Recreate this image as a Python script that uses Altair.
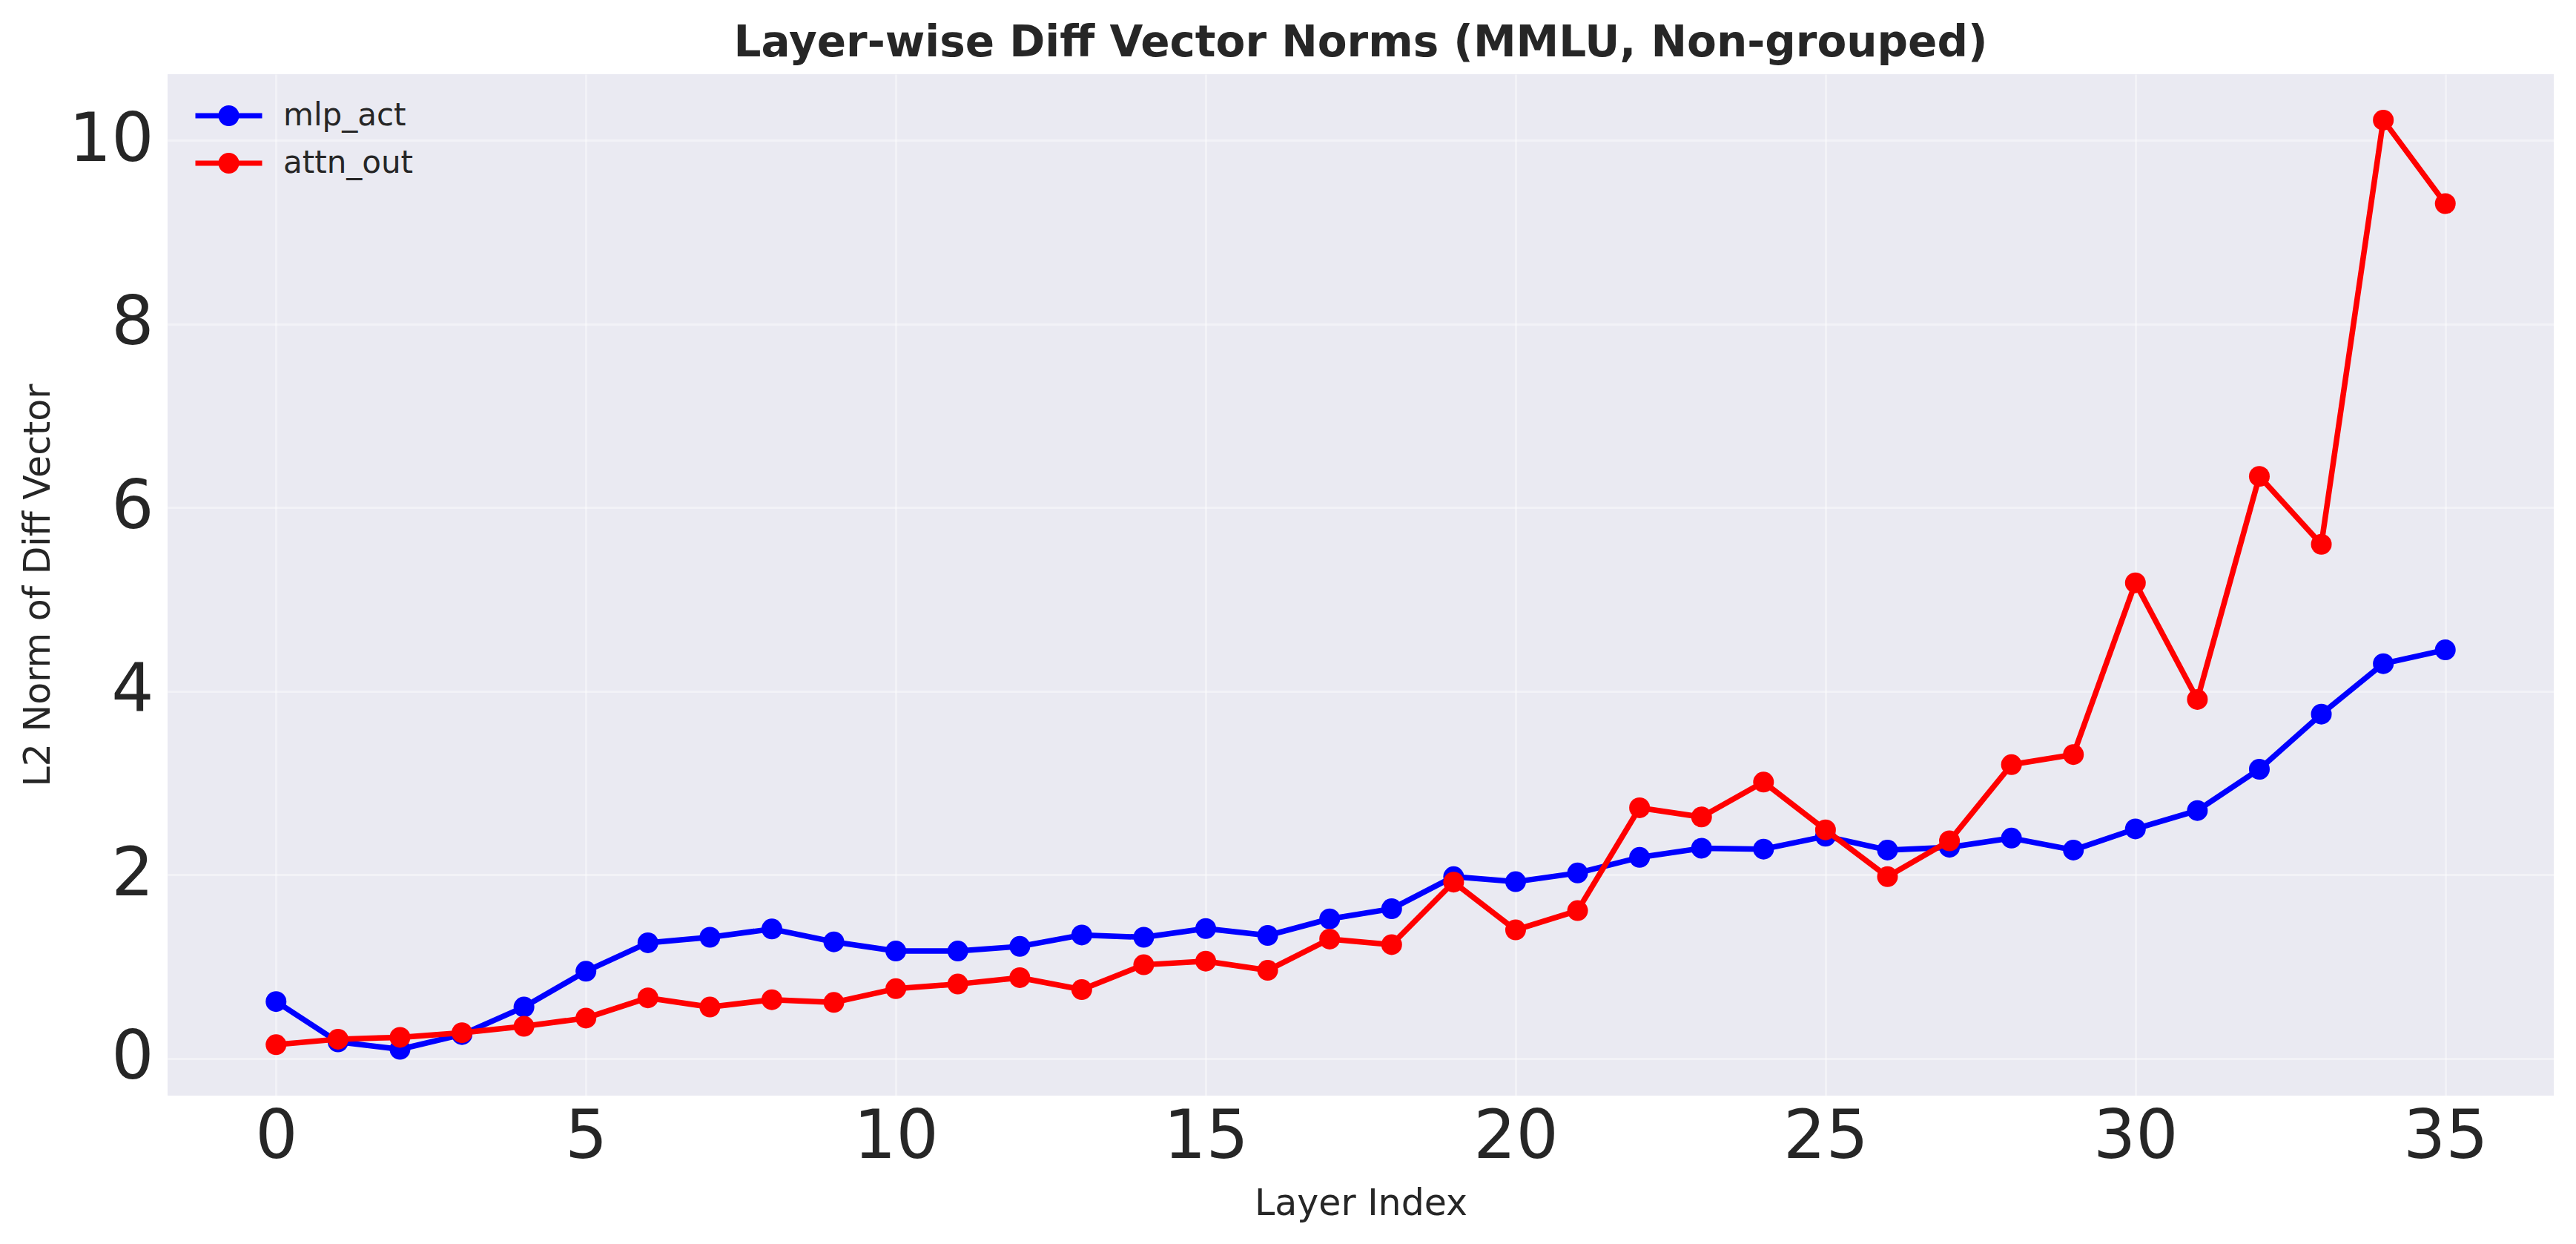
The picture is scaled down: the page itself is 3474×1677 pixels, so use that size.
import altair as alt
import pandas as pd

layers = list(range(36))
series_names = ["mlp_act", "attn_out"]
series_colors = ["#0000FF", "#FF0000"]
mlp_act = [0.62, 0.18, 0.10, 0.26, 0.56, 0.95, 1.26, 1.32, 1.41, 1.27, 1.17, 1.17,
           1.22, 1.345, 1.32, 1.415, 1.34, 1.52, 1.63, 1.98, 1.925, 2.02, 2.19, 2.29,
           2.28, 2.42, 2.27, 2.30, 2.40, 2.27, 2.50, 2.70, 3.15, 3.75, 4.30, 4.45]
attn_out = [0.15, 0.21, 0.23, 0.28, 0.35, 0.44, 0.66, 0.56, 0.64, 0.61, 0.76, 0.81,
            0.88, 0.75, 1.02, 1.06, 0.96, 1.30, 1.24, 1.92, 1.40, 1.61, 2.73, 2.63,
            3.01, 2.49, 1.98, 2.37, 3.20, 3.31, 5.18, 3.91, 6.34, 5.60, 10.22, 9.31]
x_ticks = [0, 5, 10, 15, 20, 25, 30, 35]
y_ticks = [0, 2, 4, 6, 8, 10]

rows = []
for name, vals in zip(series_names, [mlp_act, attn_out]):
    for l, v in zip(layers, vals):
        rows.append({"layer": l, "norm": v, "series": name})
df = pd.DataFrame(rows)

FONT = "DejaVu Sans"
TXT = "#262626"

x_enc = alt.X("layer:Q",
              scale=alt.Scale(domain=[-1.75, 36.75], nice=False, zero=False),
              axis=alt.Axis(values=x_ticks, title="Layer Index", format="d",
                            labelFontSize=90, labelPadding=12, labelFlush=False,
                            titleFontSize=49, titleY=160, titleBaseline="alphabetic"))
y_enc = alt.Y("norm:Q",
              scale=alt.Scale(domain=[-0.405, 10.72], nice=False, zero=False),
              axis=alt.Axis(values=y_ticks, title="L2 Norm of Diff Vector", format="d",
                            labelFontSize=90, labelPadding=19, labelFlush=False,
                            titleFontSize=49, titleX=-160, titleY=688.5,
                            titleBaseline="alphabetic", titleAlign="center"))

sym_path = ("M -1 0 L 1 0 "
            "M 0.2333 0 A 0.2333 0.2333 0 1 1 -0.2333 0 A 0.2333 0.2333 0 1 1 0.2333 0 "
            "M 0.0778 0 A 0.0778 0.0778 0 1 1 -0.0778 0 A 0.0778 0.0778 0 1 1 0.0778 0")

legend = alt.Legend(title=None, orient="none", legendX=34, legendY=24,
                    symbolType=sym_path, symbolSize=8100, symbolStrokeWidth=7,
                    clipHeight=64, rowPadding=0, padding=0, labelOffset=25,
                    labelFontSize=42, labelColor=TXT, labelFont=FONT, labelLimit=2000)

color_scale = alt.Scale(domain=series_names, range=series_colors)

layer_list = []
for i, name in enumerate(series_names):
    leg = legend if i == 0 else None
    line = alt.Chart(df).transform_filter(alt.datum.series == name).mark_line(
        strokeWidth=7.5, strokeJoin="round").encode(
        x=x_enc, y=y_enc,
        color=alt.Color("series:N", scale=color_scale, legend=leg))
    pts = alt.Chart(df).transform_filter(alt.datum.series == name).mark_point(
        filled=True, size=784, opacity=1, shape="circle").encode(
        x=x_enc, y=y_enc,
        color=alt.Color("series:N", scale=color_scale, legend=None))
    layer_list += [line, pts]

chart = alt.layer(*layer_list).properties(
    width=3218, height=1377,
    padding={"left": 218, "top": 92, "right": 20, "bottom": 180},
    autosize=alt.AutoSizeParams(type="none"),
    title=alt.Title("Layer-wise Diff Vector Norms (MMLU, Non-grouped)",
                    fontSize=58, fontWeight="bold", font=FONT, color=TXT,
                    anchor="middle", offset=12),
).configure(
    background="white", font=FONT
).configure_view(
    fill="#EAEAF2", stroke=None, strokeWidth=0
).configure_axis(
    grid=True, gridColor="white", gridOpacity=0.4, gridWidth=3,
    domain=False, ticks=False, labelColor=TXT, titleColor=TXT,
    labelFont=FONT, titleFont=FONT, titleFontWeight="normal"
)

chart.save("out.html", embed_options={"renderer": "svg", "actions": False})
